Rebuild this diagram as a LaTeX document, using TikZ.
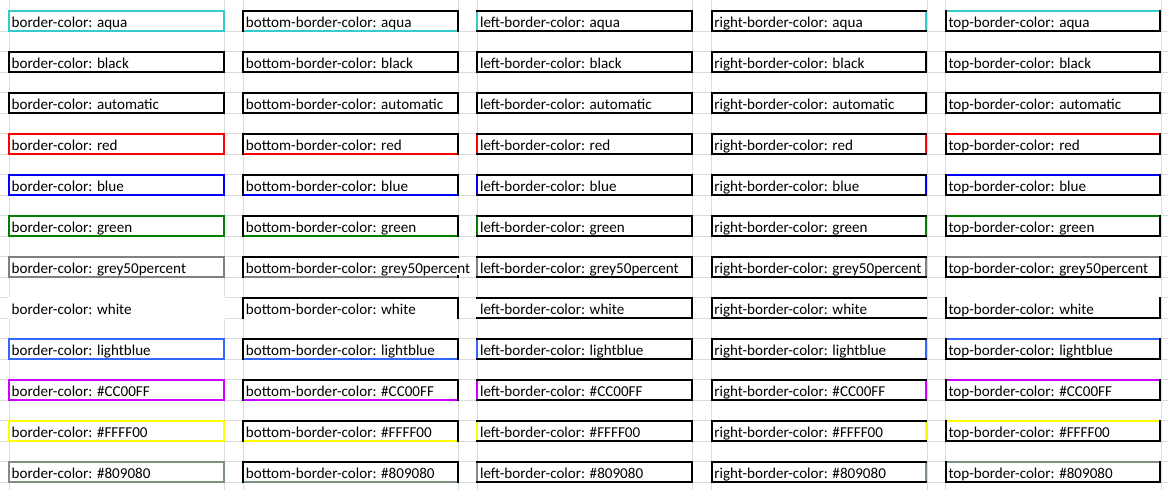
\documentclass[tikz,border=0pt]{standalone}
\usepackage{fontspec}
\setmainfont{Carlito}
\definecolor{xlgrid}{HTML}{DADCDD}
\definecolor{xlaqua}{HTML}{33CCCC}
\definecolor{xlgreen}{HTML}{008000}
\definecolor{xlgrey}{HTML}{808080}
\definecolor{xllightblue}{HTML}{3366FF}
\definecolor{xlviolet}{HTML}{CC00FF}
\definecolor{xlyellow}{HTML}{FFFF00}
\definecolor{xlsage}{HTML}{809080}
\tikzset{
  gridline/.style={xlgrid, line width=1pt},
  cellrim/.style={line width=2pt},
  celltext/.style={anchor=base west, fill=white, inner sep=0pt, text height=15.5pt, text depth=1.5pt, font=\fontsize{15.1}{18}\selectfont}
}

\begin{document}
\begin{tikzpicture}[x=1pt, y=-1pt]
    \useasboundingbox (0,0) rectangle (1168,490);
    \foreach \c in {0,1,...,4}{
        \draw[gridline] (9+234.2*\c,0) -- (9+234.2*\c,490);
        \draw[gridline] (224.5+234.2*\c,0) -- (224.5+234.2*\c,490);
    }
    \foreach \k in {1,2,...,23}{
        \draw[gridline] (0,10.5+20.5*\k) -- (1168,10.5+20.5*\k);
    }
    % one row per colour, one column per border key
    \foreach \hue/\word [count=\r from 0] in {xlaqua/aqua, black/black, black/automatic, red/red, blue/blue, xlgreen/green, xlgrey/grey50percent, white/white, xllightblue/lightblue, xlviolet/\#CC00FF, xlyellow/\#FFFF00, xlsage/\#809080}{
        \foreach \rim/\side/\pre [count=\c from 0] in {
            {}/{(nw) rectangle (se)}/{},
            {(sw) -- (nw) -- (ne) -- (se)}/{(sw) -- (se)}/{bottom-},
            {(nw) -- (ne) -- (se) -- (sw)}/{(nw) -- (sw)}/{left-},
            {(ne) -- (nw) -- (sw) -- (se)}/{(ne) -- (se)}/{right-},
            {(nw) -- (sw) -- (se) -- (ne)}/{(nw) -- (ne)}/{top-}}{
            \pgfmathsetmacro{\xl}{9+234.2*\c}
            \pgfmathsetmacro{\yt}{11+41*\r}
            \coordinate (nw) at (\xl,\yt);
            \coordinate (ne) at (\xl+214.5,\yt);
            \coordinate (sw) at (\xl,\yt+19.5);
            \coordinate (se) at (\xl+214.5,\yt+19.5);
            \draw[cellrim, \hue] \side;
            \draw[cellrim, line cap=rect] \rim;
            \node[celltext] (cell-\r-\c) at (\xl+2.5,\yt+16.5) {\pre border-color: \word};
        }
    }
\end{tikzpicture}
\end{document}
